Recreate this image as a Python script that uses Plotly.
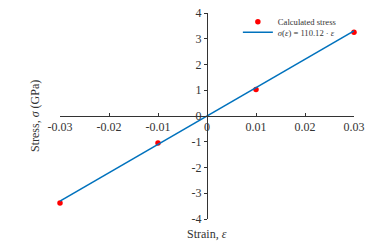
import plotly.graph_objects as go

strain = [-0.03, -0.01, 0.01, 0.03]
stress = [-3.38, -1.05, 1.03, 3.25]
modulus = 110.12
fit_strain = [-0.03, 0.03]
fit_stress = [modulus * s for s in fit_strain]
x_ticks = [-0.03, -0.02, -0.01, 0, 0.01, 0.02, 0.03]
x_labels = ["-0.03", "-0.02", "-0.01", "0", "0.01", "0.02", "0.03"]
y_ticks = [-4, -3, -2, -1, 0, 1, 2, 3, 4]
y_labels = ["-4", "-3", "-2", "-1", "0", "1", "2", "3", "4"]

font = "Liberation Serif, Times New Roman, serif"
txt = "#333333"

fig = go.Figure()
fig.add_trace(go.Scatter(x=strain, y=stress, mode="markers",
                         marker=dict(color="#ff0000", size=5.5),
                         name="Calculated stress", cliponaxis=False,
                         legend="legend"))
fig.add_trace(go.Scatter(x=fit_strain, y=fit_stress, mode="lines",
                         line=dict(color="#0072bd", width=1.5),
                         name="<i>σ</i>(<i>ε</i>) = 110.12 · <i>ε</i>", cliponaxis=False,
                         legend="legend2"))

leg_common = dict(xanchor="left", yanchor="middle",
                  font=dict(family=font, size=8.6, color=txt),
                  bgcolor="rgba(0,0,0,0)", itemwidth=30)

fig.update_layout(
    width=374, height=244,
    margin=dict(l=60, r=20, t=13, b=25, autoexpand=False),
    paper_bgcolor="white", plot_bgcolor="white",
    font=dict(family=font, size=12, color=txt),
    showlegend=True,
    legend=dict(x=0.605, y=0.958, **leg_common),
    legend2=dict(x=0.605, y=0.906, **leg_common),
    xaxis=dict(range=[-0.03, 0.03], tickvals=x_ticks, ticktext=x_labels,
               showgrid=False, zeroline=False, showline=True, linecolor=txt,
               linewidth=1, ticks="inside", ticklen=3, tickcolor=txt,
               anchor="free", position=0.5, side="bottom", automargin=False,
               tickfont=dict(family=font, size=12, color=txt)),
    yaxis=dict(range=[-4, 4], tickvals=y_ticks, ticktext=y_labels,
               showgrid=False, zeroline=False, showline=True, linecolor=txt,
               linewidth=1, ticks="outside", ticklen=3, tickcolor=txt,
               anchor="free", position=0.5, side="left", automargin=False,
               tickfont=dict(family=font, size=12, color=txt)),
    annotations=[
        dict(text="Strain, <i>ε</i>", x=0.5, y=-0.073, xref="paper", yref="paper",
             xanchor="center", yanchor="middle", showarrow=False,
             font=dict(family=font, size=12, color=txt)),
        dict(text="Stress, <i>σ</i> (GPa)", x=-0.085, y=0.5, xref="paper", yref="paper",
             xanchor="center", yanchor="middle", textangle=-90, showarrow=False,
             font=dict(family=font, size=12, color=txt)),
    ],
)

fig.write_html("out.html", config={"displayModeBar": False},
               post_script="document.body.style.margin='0';document.body.style.overflow='hidden';")
